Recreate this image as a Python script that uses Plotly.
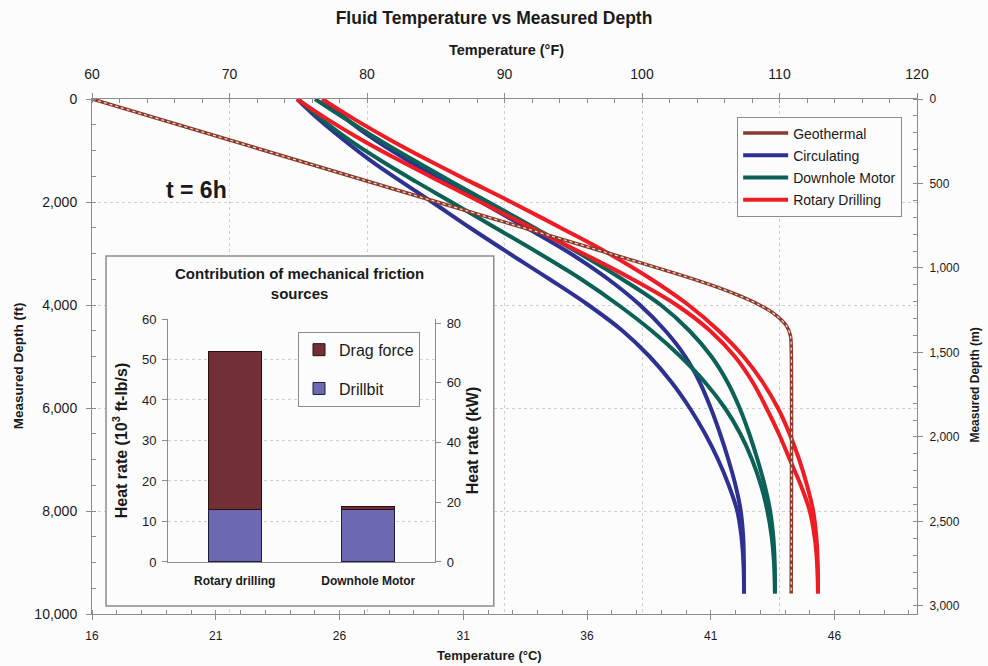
import plotly.graph_objects as go

# ---------------- main chart data (temperature in °F, depth in ft) ----------------
depth_ft = [0, 400, 800, 1200, 1600, 2000, 2500, 3000, 3500, 4000, 4500,
            5000, 5500, 6000, 6500, 7000, 7500, 8000, 8500, 9000, 9600]

circ_pipe = [74.91, 76.51, 78.33, 80.29, 82.47, 84.73, 87.49, 90.36, 93.28, 96.1, 98.58,
             100.55, 102.15, 103.47, 104.59, 105.53, 106.31, 106.93, 107.23, 107.38, 107.42]
circ_ann = [76.8, 78.55, 80.6, 83.0, 85.6, 88.3, 91.6, 94.8, 97.55, 99.85, 101.7,
            103.15, 104.2, 105.0, 105.68, 106.28, 106.8, 107.18, 107.36, 107.41, 107.42]
motor_pipe = [74.98, 76.73, 78.73, 81.03, 83.53, 86.13, 89.33, 92.53, 95.58, 98.28, 100.7,
              102.8, 104.58, 106.03, 107.15, 108.0, 108.65, 109.12, 109.43, 109.6, 109.67]
motor_ann = [76.22, 78.52, 80.92, 83.47, 86.12, 88.82, 92.17, 95.47, 98.57, 101.37, 103.45,
             105.05, 106.22, 107.1, 107.8, 108.4, 108.92, 109.32, 109.55, 109.65, 109.67]
rotary_pipe = [74.91, 77.16, 79.66, 82.41, 85.31, 88.26, 91.96, 95.71, 99.31, 102.51, 104.95,
               106.75, 108.05, 109.05, 109.95, 110.75, 111.55, 112.2, 112.55, 112.73, 112.8]
rotary_ann = [76.73, 79.13, 81.73, 84.53, 87.48, 90.48, 94.08, 97.58, 100.68, 103.38, 105.58,
              107.38, 108.78, 109.88, 110.73, 111.43, 112.0, 112.45, 112.68, 112.78, 112.8]

geo_depth = [0, 1000, 2000, 3000, 3400, 3600, 3800, 4000, 4200, 4400, 4600, 4800, 9600]
geo_temp = [60, 72.55, 85.1, 97.65, 102.6, 104.9, 106.9, 108.55, 109.75, 110.5, 110.8, 110.85, 110.85]

# ---------------- inset data (10^3 ft-lb/s) ----------------
categories = ["Rotary drilling", "Downhole Motor"]
drillbit = [13.0, 13.0]
drag_force = [39.0, 0.8]

BG = "#fcfcfc"
AX = "#8c8c8c"
GRID = "#cfcfcf"
FONT = "Liberation Sans, Arial, sans-serif"

BLUE = "#2e3192"
GREEN = "#0b6156"
RED = "#ee1c25"
BROWN = "#8a3b2c"

fig = go.Figure()

# dummy trace to create the main subplot on bottom/left axes
fig.add_trace(go.Scatter(x=[None], y=[None], xaxis="x", yaxis="y", showlegend=False, hoverinfo="skip"))

pairs = [("Circulating", BLUE, circ_pipe, circ_ann),
         ("Downhole Motor", GREEN, motor_pipe, motor_ann),
         ("Rotary Drilling", RED, rotary_pipe, rotary_ann)]
for i, (name, col, a, b) in enumerate(pairs):
    fig.add_trace(go.Scatter(x=a, y=depth_ft, xaxis="x2", yaxis="y", mode="lines",
                             line=dict(color=col, width=4, shape="spline", smoothing=1.0),
                             name=name, legendgroup=name, legend="legend", legendrank=2 + i))
    fig.add_trace(go.Scatter(x=b, y=depth_ft, xaxis="x2", yaxis="y", mode="lines",
                             line=dict(color=col, width=4, shape="spline", smoothing=1.0),
                             name=name, legendgroup=name, showlegend=False))

# geothermal
fig.add_trace(go.Scatter(x=geo_temp, y=geo_depth, xaxis="x2", yaxis="y", mode="lines",
                         line=dict(color=BROWN, width=3.5, shape="spline", smoothing=0.8),
                         name="Geothermal", legendgroup="geo", legend="legend", legendrank=1))
fig.add_trace(go.Scatter(x=geo_temp, y=geo_depth, xaxis="x2", yaxis="y", mode="lines",
                         line=dict(color="#f2dcd4", width=1.2, dash="dot", shape="spline", smoothing=0.8),
                         showlegend=False, legendgroup="geo", hoverinfo="skip"))

# dummy for right axis
fig.add_trace(go.Scatter(x=[None], y=[None], xaxis="x", yaxis="y2", showlegend=False, hoverinfo="skip"))

# dummy subplot for inset box background
fig.add_trace(go.Scatter(x=[0.5], y=[0.5], xaxis="x3", yaxis="y3", mode="markers",
                         marker=dict(opacity=0), showlegend=False, hoverinfo="skip"))

# inset bars
fig.add_trace(go.Bar(x=categories, y=drillbit, xaxis="x4", yaxis="y4", name="Drillbit",
                     marker=dict(color="#6c68b2", line=dict(color="#1e1e3c", width=1)),
                     legend="legend2", legendgroup="bit", legendrank=2))
fig.add_trace(go.Bar(x=categories, y=drag_force, xaxis="x4", yaxis="y4", name="Drag force",
                     marker=dict(color="#732f36", line=dict(color="#2a1010", width=1)),
                     legend="legend2", legendgroup="drag", legendrank=1))
fig.add_trace(go.Scatter(x=[None], y=[None], xaxis="x4", yaxis="y5", showlegend=False, hoverinfo="skip"))

tick_common = dict(showline=True, linecolor=AX, linewidth=1, ticks="outside", ticklen=5,
                   tickcolor=AX, zeroline=False)

fig.update_layout(
    width=988, height=666,
    paper_bgcolor=BG, plot_bgcolor=BG,
    margin=dict(l=92, r=71, t=99, b=52),
    font=dict(family=FONT, color="#1a1a1a"),
    title=dict(text="<b>Fluid Temperature vs Measured Depth</b>", x=0.5, xanchor="center",
               y=1 - 18 / 666, yanchor="middle", font=dict(size=17.5, family=FONT)),
    barmode="stack", bargap=0.6,
    showlegend=True,
    xaxis=dict(domain=[0, 1], anchor="y", range=[16, 49.333], tick0=16, dtick=5,
               showgrid=False, tickfont=dict(size=12), ticklabelstandoff=6,
               minor=dict(dtick=1, ticks="inside", ticklen=4, tickcolor=AX, showgrid=False),
               **tick_common),
    xaxis2=dict(overlaying="x", side="top", anchor="y", range=[60, 120], dtick=10,
                showgrid=True, gridcolor=GRID, griddash="dot", gridwidth=1,
                tickfont=dict(size=14), ticklabelstandoff=8,
                minor=dict(dtick=2, ticks="inside", ticklen=4, tickcolor=AX, showgrid=False),
                **tick_common),
    yaxis=dict(domain=[0, 1], anchor="x", range=[10000, 0], dtick=2000, tickformat=",",
               showgrid=True, gridcolor=GRID, griddash="dot", gridwidth=1,
               tickfont=dict(size=14), ticklabelstandoff=6,
               minor=dict(dtick=500, ticks="inside", ticklen=4, tickcolor=AX, showgrid=False),
               **tick_common),
    yaxis2=dict(overlaying="y", side="right", anchor="x", range=[3048, 0], dtick=500,
                tickformat=",", showgrid=False, tickfont=dict(size=12), ticklabelstandoff=4,
                minor=dict(dtick=100, ticks="inside", ticklen=4, tickcolor=AX, showgrid=False),
                **tick_common),
    xaxis3=dict(domain=[0.017, 0.487], anchor="y3", range=[0, 1], visible=False),
    yaxis3=dict(domain=[0.0155, 0.695], anchor="x3", range=[0, 1], visible=False),
    xaxis4=dict(domain=[0.0921, 0.4158], anchor="y4", type="category",
                showline=True, linecolor=AX, ticks="", zeroline=False,
                tickvals=categories, ticktext=["<b>" + c + "</b>" for c in categories],
                tickfont=dict(size=12), ticklabelstandoff=8),
    yaxis4=dict(domain=[0.101, 0.5728], anchor="x4", range=[0, 60], dtick=10,
                showgrid=True, gridcolor=GRID, griddash="dot",
                tickfont=dict(size=13), ticklabelstandoff=3,
                title=dict(text="<b>Heat rate (10<sup>3</sup> ft-lb/s)</b>", font=dict(size=16), standoff=10),
                **tick_common),
    yaxis5=dict(overlaying="y4", side="right", anchor="x4", range=[0, 81.35], dtick=20,
                showgrid=False, tickfont=dict(size=13), ticklabelstandoff=3,
                title=dict(text="<b>Heat rate (kW)</b>", font=dict(size=16), standoff=6),
                **tick_common),
    legend=dict(x=0.782, y=0.966, xanchor="left", yanchor="top", bgcolor=BG,
                bordercolor=AX, borderwidth=1, font=dict(size=14), traceorder="grouped",
                tracegroupgap=1, itemwidth=45),
    legend2=dict(x=0.2497, y=0.548, xanchor="left", yanchor="top", bgcolor=BG,
                 bordercolor=AX, borderwidth=1, font=dict(size=16), traceorder="grouped",
                 tracegroupgap=15),
    shapes=[dict(type="rect", xref="paper", yref="paper", x0=0.017, x1=0.487, y0=0.0155, y1=0.695,
                 line=dict(color=AX, width=1.5), fillcolor="rgba(0,0,0,0)", layer="above")],
    annotations=[
        dict(text="<b>Temperature (°F)</b>", xref="paper", yref="paper", x=0.502, y=1.095,
             xanchor="center", yanchor="middle", showarrow=False, font=dict(size=14.5)),
        dict(text="<b>Temperature (°C)</b>", xref="paper", yref="paper", x=0.482, y=-0.08,
             xanchor="center", yanchor="middle", showarrow=False, font=dict(size=13)),
        dict(text="<b>Measured Depth (ft)</b>", xref="paper", yref="paper", x=-0.0897, y=0.483,
             xanchor="center", yanchor="middle", showarrow=False, textangle=-90, font=dict(size=13.5)),
        dict(text="<b>Measured Depth (m)</b>", xref="paper", yref="paper", x=1.07, y=0.445,
             xanchor="center", yanchor="middle", showarrow=False, textangle=-90, font=dict(size=12)),
        dict(text="<b>t = 6h</b>", xref="paper", yref="paper", x=0.127, y=0.823,
             xanchor="center", yanchor="middle", showarrow=False, font=dict(size=23)),
        dict(text="<b>Contribution of mechanical friction<br>sources</b>", xref="paper", yref="paper",
             x=0.252, y=0.641, xanchor="center", yanchor="middle", showarrow=False, font=dict(size=15)),
    ],
)

fig.write_html("out.html")
